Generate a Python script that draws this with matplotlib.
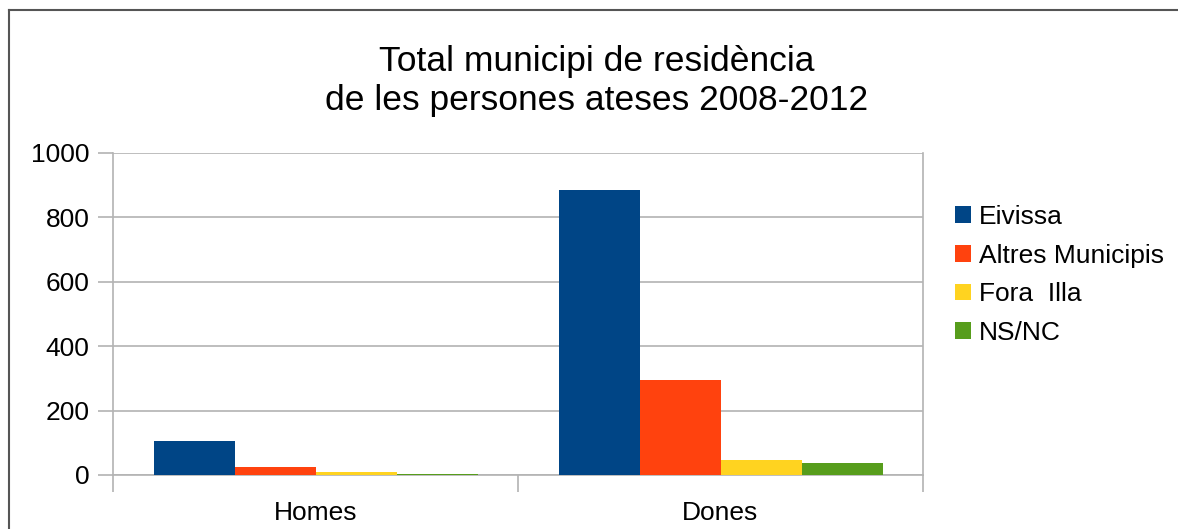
import matplotlib
matplotlib.use("Agg")
import numpy as np
import matplotlib.pyplot as plt
from matplotlib.lines import Line2D

plt.rcParams['font.family'] = ['Liberation Sans', 'DejaVu Sans']

categories = ["Homes", "Dones"]
series = ["Eivissa", "Altres Municipis", "Fora  Illa", "NS/NC"]
eivissa = [106, 885]
altres = [26, 295]
fora_illa = [10, 48]
ns_nc = [2, 38]
colors = ["#004586", "#ff420e", "#ffd320", "#579d1c"]

W, H = 1178, 529
fig = plt.figure(figsize=(W / 100, H / 100), dpi=100)
ax = fig.add_axes([113 / W, 1 - 475 / H, (923 - 113) / W, (475 - 153) / H])

x = np.arange(len(categories))
width = 0.2
for i, (vals, name) in enumerate(zip([eivissa, altres, fora_illa, ns_nc], series)):
    ax.bar(x + (i - 1.5) * width, vals, width, color=colors[i], label=name, zorder=3)

grid_c = "#b3b3b3"
ax.set_xlim(-0.5, 1.5)
ax.set_ylim(0, 1000)
ax.set_yticks(range(0, 1001, 200))
ax.yaxis.grid(True, color=grid_c, linewidth=1.2, zorder=0)
ax.set_xticks([-0.5, 0.5, 1.5])
ax.set_xticklabels([])
ax.set_xticks(x, minor=True)
ax.set_xticklabels(categories, minor=True)
ax.tick_params(axis='x', which='minor', length=0, labelsize=19, pad=19)
ax.tick_params(axis='x', which='major', length=12, color=grid_c, width=1.2)
ax.tick_params(axis='y', length=11, color=grid_c, width=1.2, labelsize=19, pad=6)
for s in ["left", "right", "bottom"]:
    ax.spines[s].set_color(grid_c)
    ax.spines[s].set_linewidth(1.2)
ax.spines["top"].set_visible(False)

fig.text(597 / W, 1 - 81 / H, "Total municipi de residència\nde les persones ateses 2008-2012",
         ha='center', va='center', fontsize=25.5, linespacing=1.2)

leg = ax.legend(loc='center left', bbox_to_anchor=(955 / W, 1 - 275 / H),
                bbox_transform=fig.transFigure, frameon=False, fontsize=19,
                borderpad=0, borderaxespad=0, handlelength=0.6, handleheight=0.6,
                handletextpad=0.3, labelspacing=0.56)

# outer frame (left and top only)
fig.add_artist(Line2D([9 / W, 9 / W], [0, 1 - 9.5 / H], transform=fig.transFigure,
                      color="#555555", linewidth=1.5))
fig.add_artist(Line2D([9 / W, 1], [1 - 9.5 / H, 1 - 9.5 / H], transform=fig.transFigure,
                      color="#555555", linewidth=1.5))

fig.savefig("out.png", dpi=100)
